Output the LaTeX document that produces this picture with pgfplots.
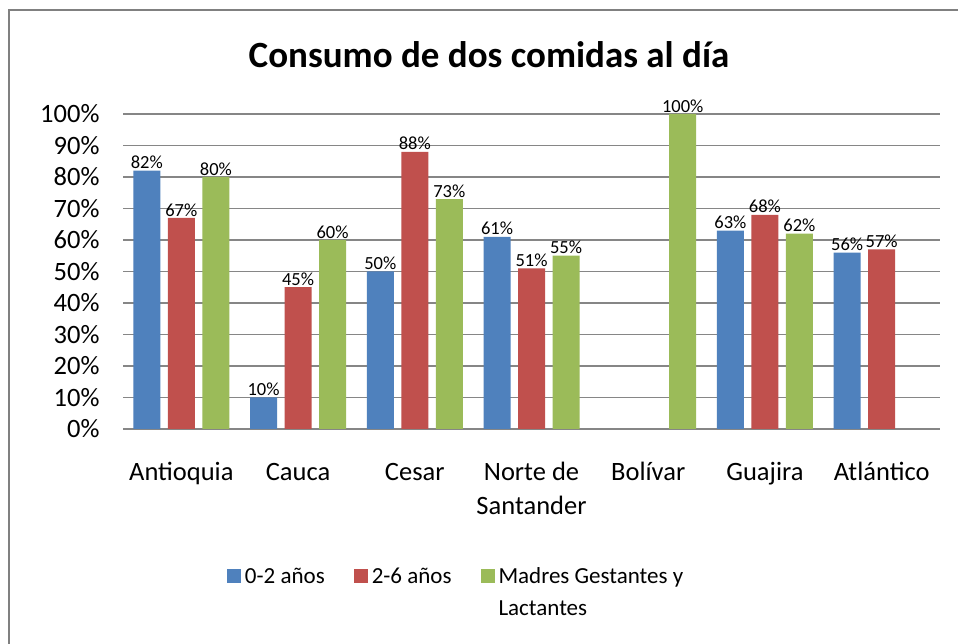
\documentclass[border=0pt]{standalone}
\usepackage{pgfplots}
\pgfplotsset{compat=1.18}
\usepackage{fontspec}
\setmainfont{Carlito}
\definecolor{cblue}{HTML}{4F81BD}
\definecolor{cred}{HTML}{C0504D}
\definecolor{cgreen}{HTML}{9BBB59}
\definecolor{gridgray}{HTML}{868686}
\definecolor{bordergray}{HTML}{808080}
\begin{document}
\begin{tikzpicture}[x=1bp,y=1bp]
\useasboundingbox (0,0) rectangle (958,644);
\fill[white] (0,0) rectangle (958,644);
\draw[bordergray, line width=2bp] (9,-5) -- (9,634) -- (965,634);
\node[font=\fontsize{37bp}{44bp}\selectfont\bfseries] at (489,589) {Consumo de dos comidas al día};
\begin{axis}[
  at={(123bp,215bp)}, anchor=south west,
  scale only axis, width=817bp, height=315bp,
  ymin=0, ymax=100, xmin=-0.5, xmax=6.5,
  ybar=7.5bp, bar width=27bp,
  axis x line*=bottom, axis y line*=left,
  y axis line style={draw=none},
  x axis line style={gridgray, line width=1.2bp},
  ytick={0,10,...,100},
  yticklabel={\pgfmathprintnumber{\tick}\%},
  ymajorgrids, grid style={gridgray, line width=1.2bp},
  major tick length=0pt,
  xtick={0,...,6},
  xticklabels={Antioquia, Cauca, Cesar, {Norte de\\Santander}, Bolívar, Guajira, Atlántico},
  typeset ticklabels with strut,
  xticklabel style={align=center, yshift=-24bp},
  yticklabel style={xshift=-20bp},
  tick label style={font=\fontsize{26.5bp}{34bp}\selectfont},
  /pgf/number format/assume math mode=true,
  clip=false,
  nodes near coords={\pgfmathprintnumber{\pgfplotspointmeta}\%},
  nodes near coords style={font=\fontsize{18.5bp}{20bp}\selectfont, inner sep=1.5bp, black},
  legend columns=3,
  legend image code/.code={\fill[#1] (0bp,0bp) rectangle (14bp,14bp);},
  legend style={draw=none, fill=none, at={(0.124,-0.406)}, anchor=north west,
    font=\fontsize{23bp}{32bp}\selectfont,
    cells={anchor=base west},
    nodes={inner xsep=3.5bp},
    /tikz/every odd column/.append style={column sep=0bp},
    /tikz/every even column/.append style={column sep=26bp}},
]
\addplot[fill=cblue, draw=none] coordinates {(0,82) (1,10) (2,50) (3,61) (5,63) (6,56)};
\addlegendentry{0-2 años}
\addplot[fill=cred, draw=none] coordinates {(0,67) (1,45) (2,88) (3,51) (5,68) (6,57)};
\addlegendentry{2-6 años}
\addplot[fill=cgreen, draw=none] coordinates {(0,80) (1,60) (2,73) (3,55) (4,100) (5,62)};
\addlegendentry{\begin{tabular}[t]{@{}l@{}}Madres Gestantes y\\Lactantes\end{tabular}}
\end{axis}
\end{tikzpicture}
\end{document}
